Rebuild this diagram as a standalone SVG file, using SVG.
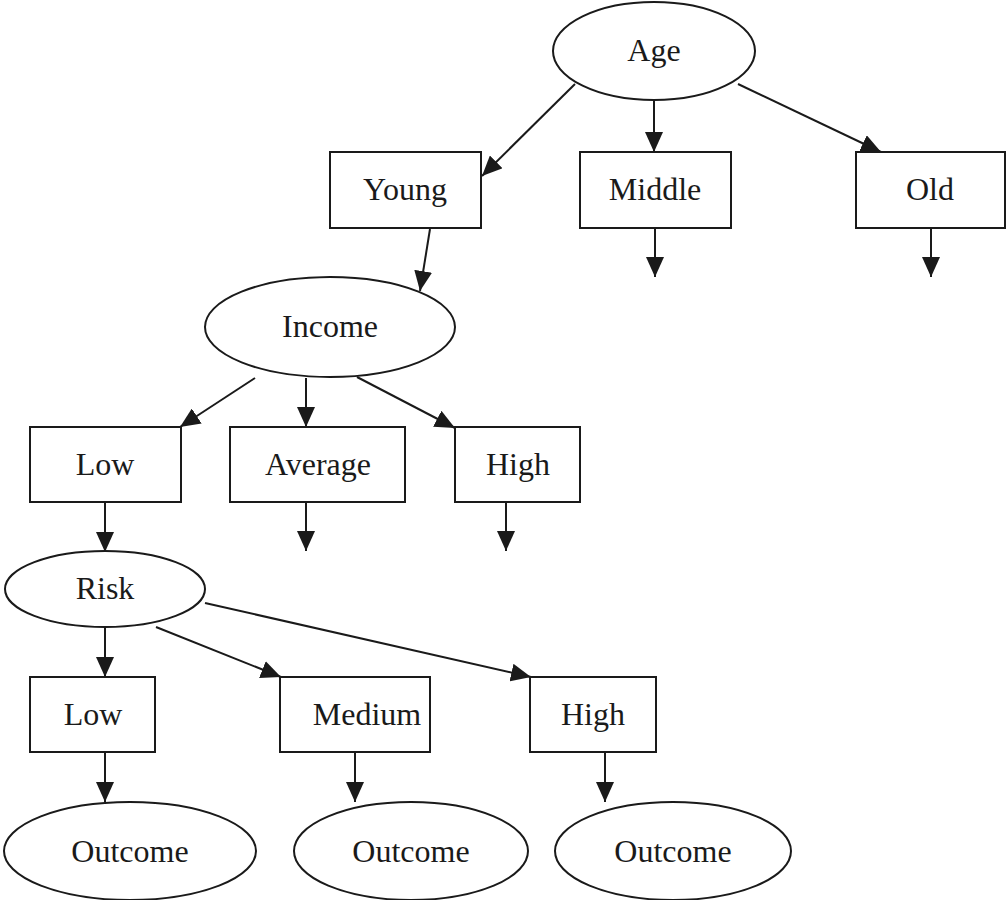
<svg xmlns="http://www.w3.org/2000/svg" width="1007" height="900" viewBox="0 0 1007 900">
  <style>
    .shape { fill: #ffffff; stroke: #1a1a1a; stroke-width: 2; }
    .label { font-family: "Liberation Serif", "DejaVu Serif", serif; font-size: 32px; fill: #1a1a1a; text-anchor: middle; dominant-baseline: central; }
    .edge { stroke: #1a1a1a; stroke-width: 2; fill: none; marker-end: url(#arrow); }
  </style>
  <defs>
    <marker id="arrow" markerUnits="userSpaceOnUse" markerWidth="20" markerHeight="18" viewBox="0 0 20 18" refX="20" refY="9" orient="auto">
      <path d="M0,0 L20,9 L0,18 Z" fill="#1a1a1a"/>
    </marker>
  </defs>
  <rect width="1007" height="900" fill="#ffffff"/>

  <g id="connectors">
    <line class="edge" x1="575" y1="84" x2="482" y2="176"/>
    <line class="edge" x1="654" y1="100" x2="654" y2="152"/>
    <line class="edge" x1="738" y1="84" x2="881" y2="152"/>
    <line class="edge" x1="655" y1="228" x2="655" y2="277"/>
    <line class="edge" x1="931" y1="228" x2="931" y2="277"/>
    <line class="edge" x1="430" y1="229" x2="420" y2="291"/>
    <line class="edge" x1="255" y1="378" x2="180" y2="427"/>
    <line class="edge" x1="306" y1="378" x2="306" y2="427"/>
    <line class="edge" x1="357" y1="377" x2="455" y2="428"/>
    <line class="edge" x1="105" y1="502" x2="105" y2="552"/>
    <line class="edge" x1="306" y1="502" x2="306" y2="551"/>
    <line class="edge" x1="506" y1="502" x2="506" y2="551"/>
    <line class="edge" x1="105" y1="627" x2="105" y2="677"/>
    <line class="edge" x1="156" y1="627" x2="281" y2="677"/>
    <line class="edge" x1="205" y1="603" x2="531" y2="677"/>
    <line class="edge" x1="105" y1="752" x2="105" y2="802"/>
    <line class="edge" x1="355" y1="752" x2="355" y2="802"/>
    <line class="edge" x1="605" y1="752" x2="605" y2="802"/>
  </g>

  <g id="age">
    <ellipse class="shape" cx="654" cy="51" rx="101" ry="49"/>
    <text class="label" x="654" y="50">Age</text>
  </g>
  <g id="young">
    <rect class="shape" x="330" y="152" width="151" height="76"/>
    <text class="label" x="405" y="189">Young</text>
  </g>
  <g id="middle">
    <rect class="shape" x="580" y="152" width="151" height="76"/>
    <text class="label" x="655" y="189">Middle</text>
  </g>
  <g id="old">
    <rect class="shape" x="856" y="152" width="149" height="76"/>
    <text class="label" x="930" y="189">Old</text>
  </g>
  <g id="income">
    <ellipse class="shape" cx="330" cy="327" rx="125" ry="50"/>
    <text class="label" x="330" y="326">Income</text>
  </g>
  <g id="income-low">
    <rect class="shape" x="30" y="427" width="151" height="75"/>
    <text class="label" x="105" y="464">Low</text>
  </g>
  <g id="income-average">
    <rect class="shape" x="230" y="427" width="175" height="75"/>
    <text class="label" x="318" y="464">Average</text>
  </g>
  <g id="income-high">
    <rect class="shape" x="455" y="427" width="125" height="75"/>
    <text class="label" x="518" y="464">High</text>
  </g>
  <g id="risk">
    <ellipse class="shape" cx="105" cy="589" rx="100" ry="38"/>
    <text class="label" x="105" y="588">Risk</text>
  </g>
  <g id="risk-low">
    <rect class="shape" x="30" y="677" width="125" height="75"/>
    <text class="label" x="93" y="714">Low</text>
  </g>
  <g id="risk-medium">
    <rect class="shape" x="280" y="677" width="150" height="75"/>
    <text class="label" x="367" y="714">Medium</text>
  </g>
  <g id="risk-high">
    <rect class="shape" x="530" y="677" width="126" height="75"/>
    <text class="label" x="593" y="714">High</text>
  </g>
  <g id="outcome-1">
    <ellipse class="shape" cx="130" cy="851" rx="126" ry="49"/>
    <text class="label" x="130" y="851">Outcome</text>
  </g>
  <g id="outcome-2">
    <ellipse class="shape" cx="411" cy="851" rx="117" ry="49"/>
    <text class="label" x="411" y="851">Outcome</text>
  </g>
  <g id="outcome-3">
    <ellipse class="shape" cx="673" cy="851" rx="118" ry="49"/>
    <text class="label" x="673" y="851">Outcome</text>
  </g>
</svg>
